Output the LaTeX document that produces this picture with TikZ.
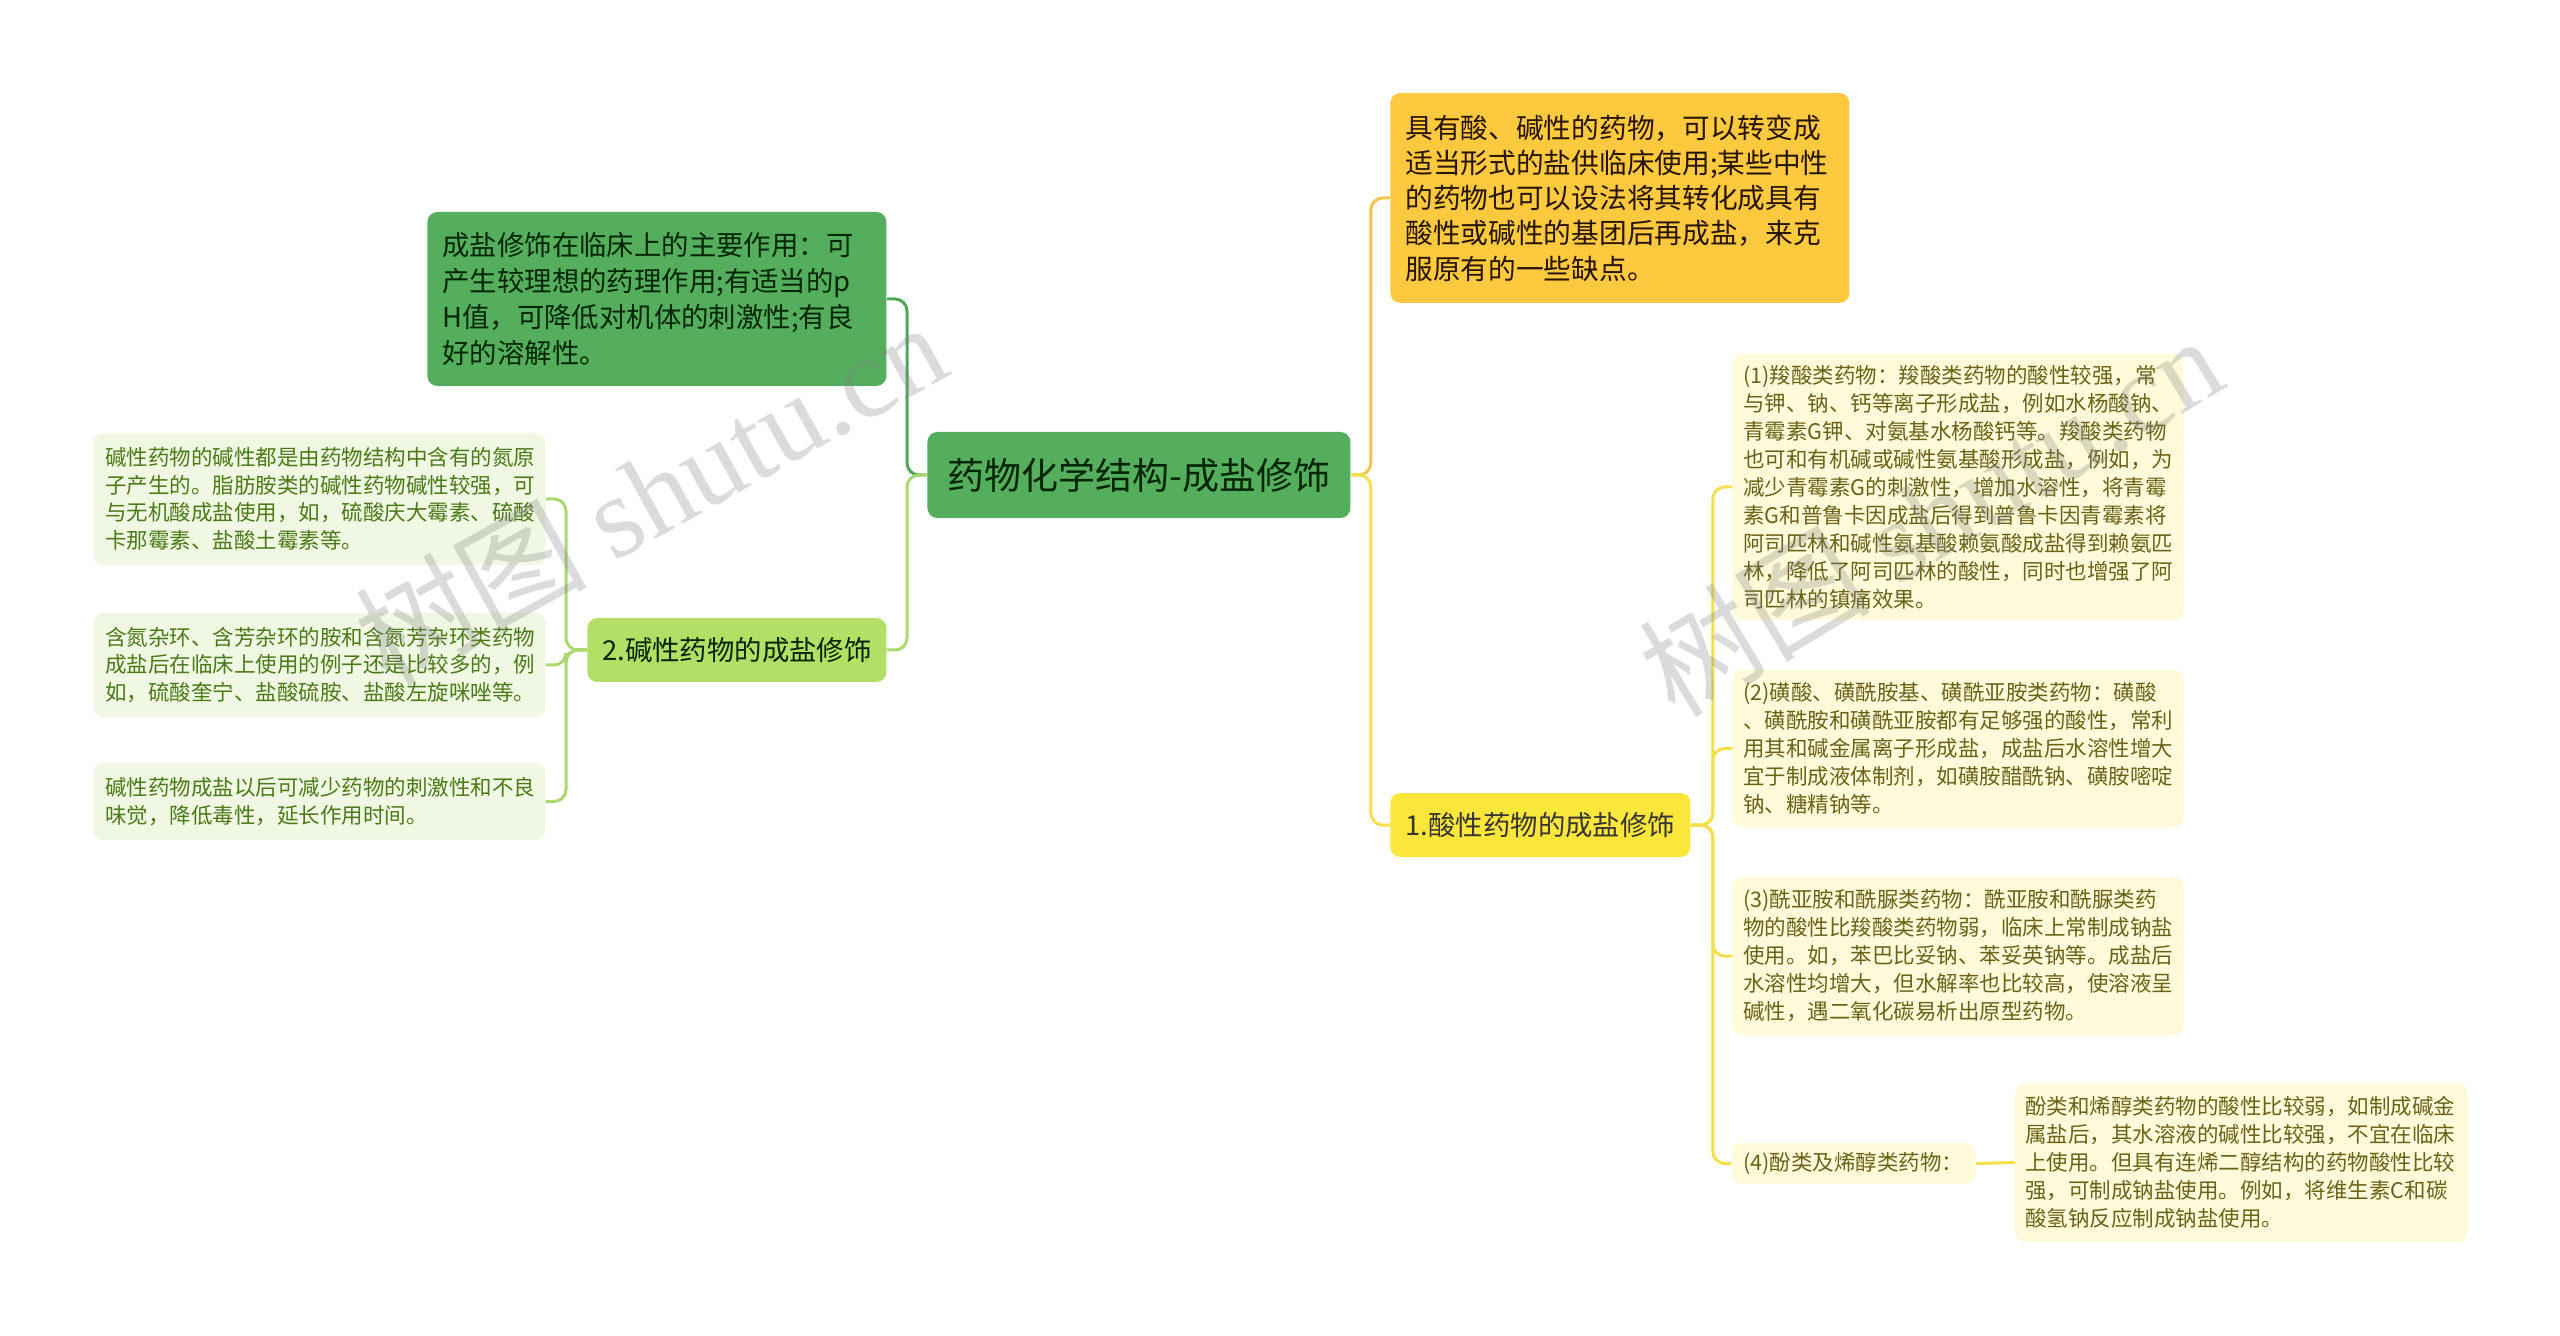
\documentclass[tikz,border=0pt]{standalone}
\usepackage{fontspec}
\setmainfont{Noto Sans CJK SC}
\newfontfamily\wmserif{Liberation Serif}
\usetikzlibrary{positioning}

\definecolor{rootgreen}{HTML}{54AE5E}
\definecolor{darkline}{HTML}{4FA65A}
\definecolor{lightgreen}{HTML}{B3DF66}
\definecolor{lightline}{HTML}{ABD96E}
\definecolor{leafgreen}{HTML}{F0F8E3}
\definecolor{leafgreentext}{HTML}{4B7A17}
\definecolor{orangebox}{HTML}{FCC93F}
\definecolor{orangeline}{HTML}{F4C54A}
\definecolor{yellowbox}{HTML}{FBE63C}
\definecolor{yellowline}{HTML}{F4E04A}
\definecolor{leafyellow}{HTML}{FFFBDA}
\definecolor{leafyellowtext}{HTML}{6B6218}

\begin{document}
\begin{tikzpicture}[x=0.5pt,y=-0.5pt,
    box/.style={rounded corners=5pt, inner ysep=0pt, anchor=west, align=left},
    bigfont/.style={font=\fontsize{13.7}{18}\selectfont},
    smallfont/.style={font=\fontsize{10.75}{13.75}\selectfont},
    rootbox/.style={box, fill=rootgreen, text=black!85!green, align=center,
        font=\fontsize{18.5}{22}\selectfont, minimum width=211.5pt, minimum height=43pt},
    greenbox/.style={box, bigfont, fill=rootgreen, text=black!85!green, inner xsep=7.5pt, text width=214.5pt},
    subgreen/.style={box, bigfont, fill=lightgreen, text=black!85!green, align=center,
        minimum width=149.5pt, minimum height=32pt},
    leafL/.style={box, smallfont, fill=leafgreen, text=leafgreentext, inner xsep=6pt, text width=214pt},
    orangenote/.style={box, font=\fontsize{13.85}{17.65}\selectfont, fill=orangebox, text=black!85!orange,
        inner xsep=7.5pt, text width=214.5pt, minimum height=105pt},
    subyellow/.style={box, bigfont, fill=yellowbox, text=black!90!yellow, align=center,
        minimum width=150pt, minimum height=32pt},
    leafR/.style={box, font=\fontsize{10.75}{14}\selectfont, fill=leafyellow, text=leafyellowtext,
        inner xsep=5.5pt, text width=214.5pt},
    link/.style={line width=1.5pt, rounded corners=6pt}]

\useasboundingbox (0,0) rectangle (2560,1336);
\fill[white] (0,0) rectangle (2560,1336);

% centre
\node[rootbox] (root) at (927,475) {药物化学结构-成盐修饰};

% left side
\node[greenbox, minimum height=87pt] (role) at (427,299)
    {成盐修饰在临床上的主要作用：可\\产生较理想的药理作用;有适当的p\\H值，可降低对机体的刺激性;有良\\好的溶解性。};
\node[subgreen] (base) at (587,650) {2.碱性药物的成盐修饰};
\node[leafL, minimum height=66pt] (base1) at (93,499)
    {碱性药物的碱性都是由药物结构中含有的氮原\\子产生的。脂肪胺类的碱性药物碱性较强，可\\与无机酸成盐使用，如，硫酸庆大霉素、硫酸\\卡那霉素、盐酸土霉素等。};
\node[leafL, minimum height=52pt] (base2) at (93,665)
    {含氮杂环、含芳杂环的胺和含氮芳杂环类药物\\成盐后在临床上使用的例子还是比较多的，例\\如，硫酸奎宁、盐酸硫胺、盐酸左旋咪唑等。};
\node[leafL, minimum height=38.5pt] (base3) at (93,801.5)
    {碱性药物成盐以后可减少药物的刺激性和不良\\味觉，降低毒性，延长作用时间。};

% right side
\node[orangenote] (intro) at (1390,198)
    {具有酸、碱性的药物，可以转变成\\适当形式的盐供临床使用;某些中性\\的药物也可以设法将其转化成具有\\酸性或碱性的基团后再成盐，来克\\服原有的一些缺点。};
\node[subyellow] (acid) at (1390,825) {1.酸性药物的成盐修饰};
\node[leafR, minimum height=133pt] (acid1) at (1732,487)
    {(1)羧酸类药物：羧酸类药物的酸性较强，常\\与钾、钠、钙等离子形成盐，例如水杨酸钠、\\青霉素G钾、对氨基水杨酸钙等。羧酸类药物\\也可和有机碱或碱性氨基酸形成盐，例如，为\\减少青霉素G的刺激性，增加水溶性，将青霉\\素G和普鲁卡因成盐后得到普鲁卡因青霉素将\\阿司匹林和碱性氨基酸赖氨酸成盐得到赖氨匹\\林，降低了阿司匹林的酸性，同时也增强了阿\\司匹林的镇痛效果。};
\node[leafR, minimum height=78.5pt] (acid2) at (1732,748.5)
    {(2)磺酸、磺酰胺基、磺酰亚胺类药物：磺酸\\、磺酰胺和磺酰亚胺都有足够强的酸性，常利\\用其和碱金属离子形成盐，成盐后水溶性增大\\宜于制成液体制剂，如磺胺醋酰钠、磺胺嘧啶\\钠、糖精钠等。};
\node[leafR, minimum height=79pt] (acid3) at (1732,956)
    {(3)酰亚胺和酰脲类药物：酰亚胺和酰脲类药\\物的酸性比羧酸类药物弱，临床上常制成钠盐\\使用。如，苯巴比妥钠、苯妥英钠等。成盐后\\水溶性均增大，但水解率也比较高，使溶液呈\\碱性，遇二氧化碳易析出原型药物。};
\node[box, font=\fontsize{10.75}{14}\selectfont, fill=leafyellow, text=leafyellowtext,
    inner xsep=6pt, minimum height=20.5pt] (acid4) at (1731,1163.5) {(4)酚类及烯醇类药物：};
\node[box, font=\fontsize{10.75}{14}\selectfont, fill=leafyellow, text=leafyellowtext,
    inner xsep=5pt, text width=216pt, minimum height=79.5pt] (phenol) at (2015,1162.5)
    {酚类和烯醇类药物的酸性比较弱，如制成碱金\\属盐后，其水溶液的碱性比较强，不宜在临床\\上使用。但具有连烯二醇结构的药物酸性比较\\强，可制成钠盐使用。例如，将维生素C和碳\\酸氢钠反应制成钠盐使用。};

% connectors
\draw[link, darkline] (root.west) -- ++(-20,0) |- (role.east);
\draw[link, lightline] (root.west) -- ++(-20,0) |- (base.east);
\foreach \leaf in {base1,base2,base3}
    \draw[link, lightline] (base.west) -- ++(-21,0) |- (\leaf.east);
\draw[link, orangeline] (root.east) -- ++(20,0) |- (intro.west);
\draw[link, yellowline] (root.east) -- ++(20,0) |- (acid.west);
\foreach \leaf in {acid1,acid2,acid3,acid4}
    \draw[link, yellowline] (acid.east) -- ++(22,0) |- (\leaf.west);
\draw[link, yellowline] (acid4.east) -- (phenol.west);

% watermark
\node[rotate=29, text=gray, opacity=0.28, font=\fontsize{58}{58}\selectfont] (wm1) at (650,492)
    {树图 {\wmserif shutu.cn}};
\node[rotate=31, text=gray, opacity=0.28, font=\fontsize{58}{58}\selectfont] (wm2) at (1930,515)
    {树图 {\wmserif shutu.cn}};
\end{tikzpicture}
\end{document}
